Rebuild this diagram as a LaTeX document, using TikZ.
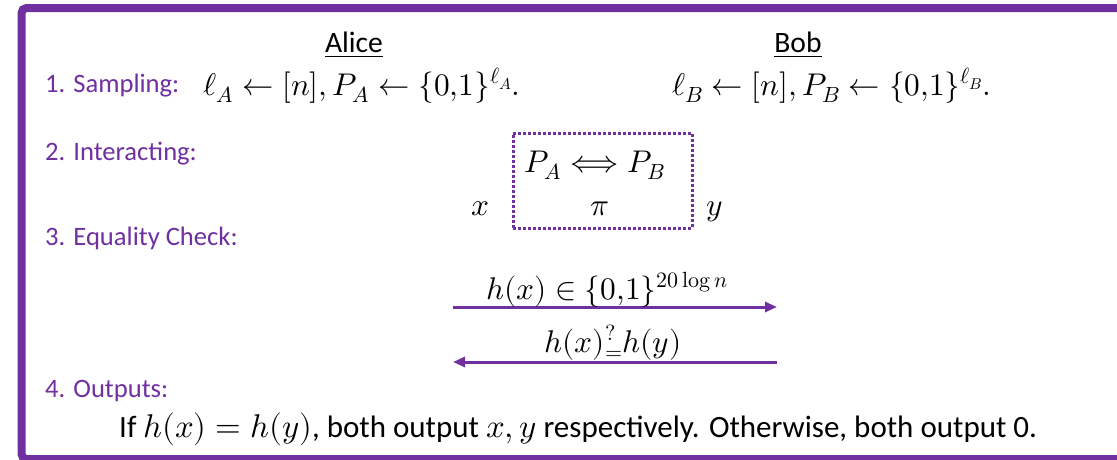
\documentclass[tikz,border=0pt]{standalone}
\usepackage{amsmath}
\usepackage{fontspec}
\usepackage{unicode-math}
\setmainfont{Carlito}
\setmathfont{Latin Modern Math}[Scale=1.06]
\usetikzlibrary{arrows.meta}
\definecolor{ppt}{HTML}{7030A0}
\tikzset{
  lbl/.style={anchor=base west, inner sep=0pt, text=ppt, font=\fontsize{26.6}{32}\selectfont},
  txt/.style={inner sep=0pt, font=\fontsize{29.6}{36}\selectfont},
  msg/.style={line width=3pt, draw=ppt, -{Triangle[length=12pt,width=10pt]}},
}
\begin{document}
\begin{tikzpicture}[x=1pt,y=-1pt]
\useasboundingbox (0,0) rectangle (1117,459);
\begin{scope}
\clip (0,0) rectangle (1117,459);
\draw[line width=8pt, draw=ppt, rounded corners=5pt] (21.5,8) rectangle (1160,459);
\end{scope}
% headings
\node[txt, anchor=base] (alice) at (354,52) {\underline{Alice}};
\node[txt, anchor=base] (bob) at (798,52) {\underline{Bob}};
% step labels
\node[lbl] (s1) at (45,92) {1. Sampling:};
\node[lbl] (s2) at (45,160) {2. Interacting:};
\node[lbl] (s3) at (45,245) {3. Equality Check:};
\node[lbl] (s4) at (45,397) {4. Outputs:};
% sampling
\node[txt, anchor=base] (sa) at (362,95) {$\ell_A \leftarrow [n], P_A \leftarrow \{0{,}1\}^{\ell_A}.$};
\node[txt, anchor=base] (sb) at (832,95) {$\ell_B \leftarrow [n], P_B \leftarrow \{0{,}1\}^{\ell_B}.$};
% interacting
\node[draw=ppt, line width=3pt, dotted, minimum width=179pt, minimum height=95pt, inner sep=0pt] (box) at (602.5,180.5) {};
\node[txt, anchor=base] (pp) at (595,172) {$P_A \Longleftrightarrow P_B$};
\node[txt, anchor=base] (pi) at (600,215) {$\pi$};
\node[txt, anchor=base] (x) at (480,215) {$x$};
\node[txt, anchor=base] (y) at (715,215) {$y$};
% equality check
\coordinate (a1) at (453,307);
\coordinate (b1) at (777,307);
\coordinate (a2) at (453,362);
\coordinate (b2) at (777,362);
\draw[msg] (a1) -- (b1);
\draw[msg] (b2) -- (a2);
\node[txt, anchor=base] (m1) at (607,299) {$h(x) \in \{0{,}1\}^{20\,\symup{log}\,n}$};
\node[txt, anchor=base] (m2) at (613,352) {$h(x)^{?}_{=}h(y)$};
% outputs
\node[txt, anchor=base west, font=\fontsize{31}{36}\selectfont] (out) at (119,437) {If $h(x) = h(y)$, both output $x, y$ respectively. Otherwise, both output 0.};
\end{tikzpicture}
\end{document}
